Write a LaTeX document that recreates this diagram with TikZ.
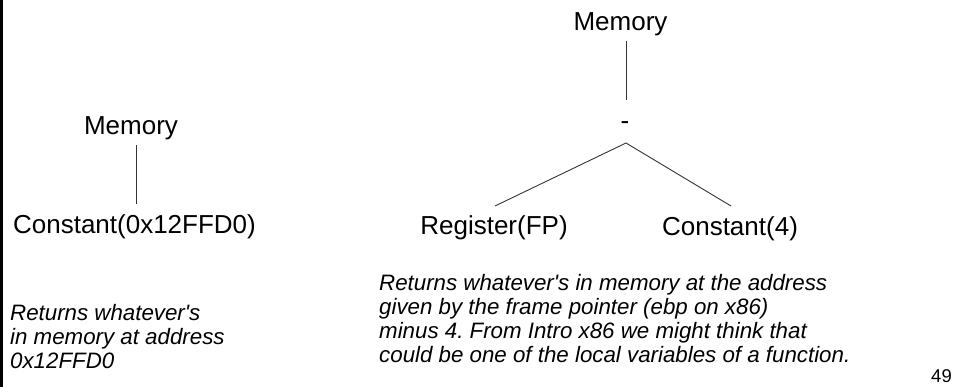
\documentclass[tikz,border=0pt]{standalone}
\usepackage{fontspec}
\setmainfont{Liberation Sans}[Ligatures=TeXOff]
\frenchspacing
\begin{document}
\begin{tikzpicture}[x=1pt,y=-1pt,
  term/.style={inner sep=0pt,anchor=base,font=\fontsize{26}{31}\selectfont},
  note/.style={inner sep=0pt,anchor=north west,align=left,
    font=\itshape\fontsize{22.3}{24}\selectfont},
  edge/.style={line width=0.9pt,black!80}]
\useasboundingbox (0,0) rectangle (956,387);
% edge bar on the left side of the slide
\fill (0,0) rectangle (3,387);

% left tree: Memory(Constant)
\node[term] (lmem) at (131,135) {Memory};
\node[term] (lconst) at (134.5,234) {Constant(0x12FFD0)};
\draw[edge] ([xshift=5.7pt,yshift=-10pt]lmem.base) -- ([xshift=2.2pt,yshift=30pt]lconst.base);
\node[note] (lnote) at (10,304) {Returns whatever's\\in memory at address\\0x12FFD0};

% right tree: Memory(Register(FP) - Constant(4))
\node[term] (rmem) at (620.5,31) {Memory};
\node[term] (minus) at (625,129.5) {-};
\node[term] (reg) at (494,235) {Register(FP)};
\node[term] (rconst) at (730,235.5) {Constant(4)};
\draw[edge] ([xshift=6.2pt,yshift=-10pt]rmem.base) -- ([xshift=1.7pt,yshift=29.5pt]minus.base);
\draw[edge] ([xshift=1pt,yshift=29pt]reg.base) -- ([xshift=1pt,yshift=-13.5pt]minus.base)
  -- ([xshift=1pt,yshift=29.5pt]rconst.base);
\node[note] (rnote) at (379,274.5) {Returns whatever's in memory at the address\\given by the frame pointer (ebp on x86)\\minus 4. From Intro x86 we might think that\\could be one of the local variables of a function.};

% slide number
\node[inner sep=0pt,anchor=base east,font=\fontsize{18.5}{22}\selectfont] (page) at (952,382) {49};
\end{tikzpicture}
\end{document}
